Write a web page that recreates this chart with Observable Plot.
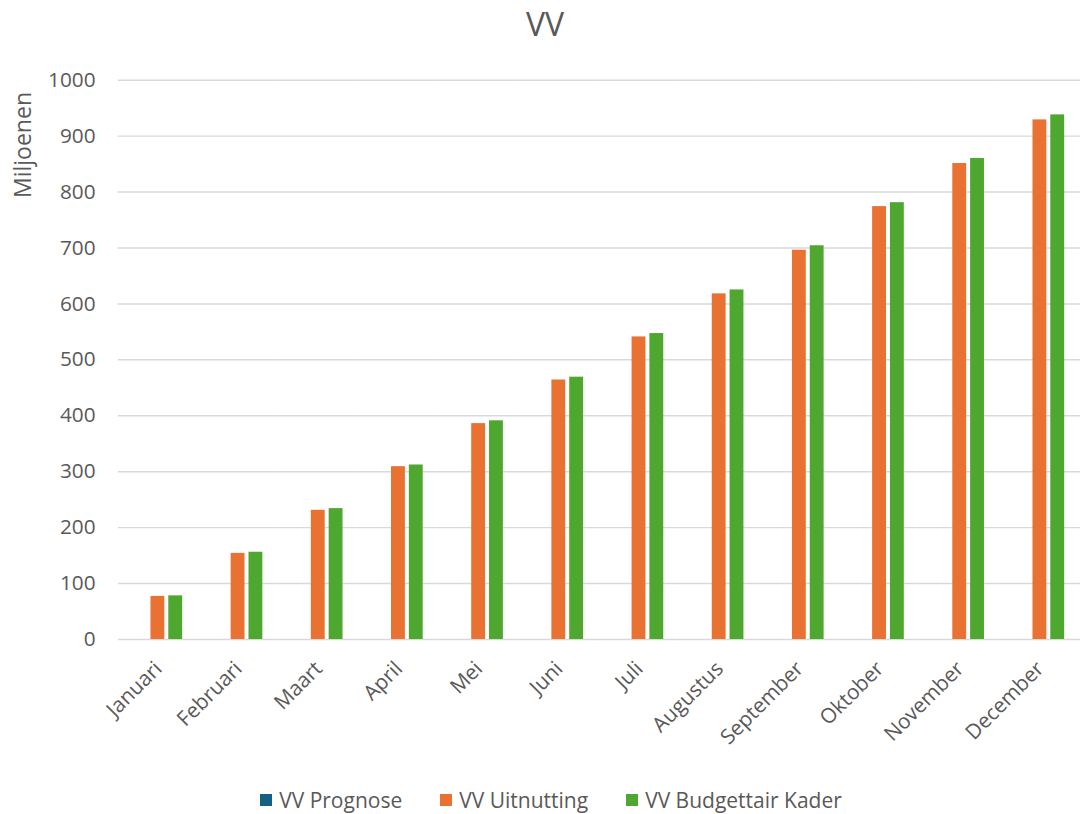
<!DOCTYPE html>
<html>
<head>
<meta charset="utf-8">
<script src="https://cdn.jsdelivr.net/npm/d3@7"></script>
<script src="https://cdn.jsdelivr.net/npm/@observablehq/plot@0.6"></script>
<style>
  html, body { margin: 0; padding: 0; background: #fff; overflow: hidden; width: 1081px; height: 814px; }
  #wrap { position: relative; width: 1081px; height: 814px; font-family: "Open Sans", sans-serif; color: #595959; }
  #title { position: absolute; top: 2px; left: 445px; width: 200px; text-align: center; font-size: 32px; line-height: 44px; z-index: 2; }
  #ylabel { position: absolute; left: 22px; top: 145px; transform: translate(-50%, -50%) rotate(-90deg); font-size: 23px; white-space: nowrap; z-index: 2; }
  #chart { position: absolute; top: 50px; left: 0; z-index: 1; }
  #legend { position: absolute; top: 788px; left: 0; width: 1102px; display: flex; justify-content: center; gap: 38px; font-size: 21px; line-height: 24px; z-index: 2; }
  .item { display: flex; align-items: center; gap: 7px; }
  .sw { width: 12px; height: 12px; display: inline-block; }
</style>
</head>
<body>
<div id="wrap">
  <div id="title">VV</div>
  <div id="ylabel">Miljoenen</div>
  <div id="chart"></div>
  <div id="legend"></div>
</div>
<script>
const months = ["Januari","Februari","Maart","April","Mei","Juni","Juli","Augustus","September","Oktober","November","December"];
const series = ["VV Prognose","VV Uitnutting","VV Budgettair Kader"];
const colors = ["#156082","#E97132","#4EA72E"];
const prognose = [null,null,null,null,null,null,null,null,null,null,null,null];
const uitnutting = [77,154,231,309,386,464,541,618,696,774,851,929];
const budgettairKader = [78,156,234,312,391,469,547,625,704,781,860,938];
const yTicks = [0,100,200,300,400,500,600,700,800,900,1000];

const seriesValues = [prognose, uitnutting, budgettairKader];
const data = [];
months.forEach((m, i) => {
  series.forEach((s, j) => {
    const v = seriesValues[j][i];
    if (v != null) data.push({month: m, series: s, value: v});
  });
});

const chart = Plot.plot({
  width: 1092,
  height: 726,
  marginLeft: 118,
  marginRight: 0,
  marginTop: 30,
  marginBottom: 131,
  style: {fontFamily: "Open Sans, sans-serif", color: "#595959", background: "white", overflow: "visible"},
  fx: {domain: months, padding: 0, label: null, axis: null},
  x: {domain: series, paddingInner: 0.22, paddingOuter: 0.85, axis: null},
  y: {domain: [0, 1000], axis: null},
  color: {domain: series, range: colors},
  marks: [
    Plot.gridY(yTicks, {stroke: "#d9d9d9", strokeOpacity: 1, strokeWidth: 1.5}),
    Plot.axisY(yTicks, {tickSize: 0, tickPadding: 23, fontSize: 21, label: null, fill: "#595959", tickFormat: d => String(d)}),
    Plot.barY(data, {fx: "month", x: "series", y: "value", fill: "series"}),
    Plot.axisFx({anchor: "bottom", tickRotate: -45, tickSize: 0, tickPadding: 26, fontSize: 21, label: null, fill: "#595959"})
  ]
});
document.getElementById("chart").appendChild(chart);

const legend = document.getElementById("legend");
series.forEach((s, i) => {
  const item = document.createElement("div");
  item.className = "item";
  const sw = document.createElement("span");
  sw.className = "sw";
  sw.style.background = colors[i];
  const t = document.createElement("span");
  t.textContent = s;
  item.appendChild(sw);
  item.appendChild(t);
  legend.appendChild(item);
});
</script>
</body>
</html>
